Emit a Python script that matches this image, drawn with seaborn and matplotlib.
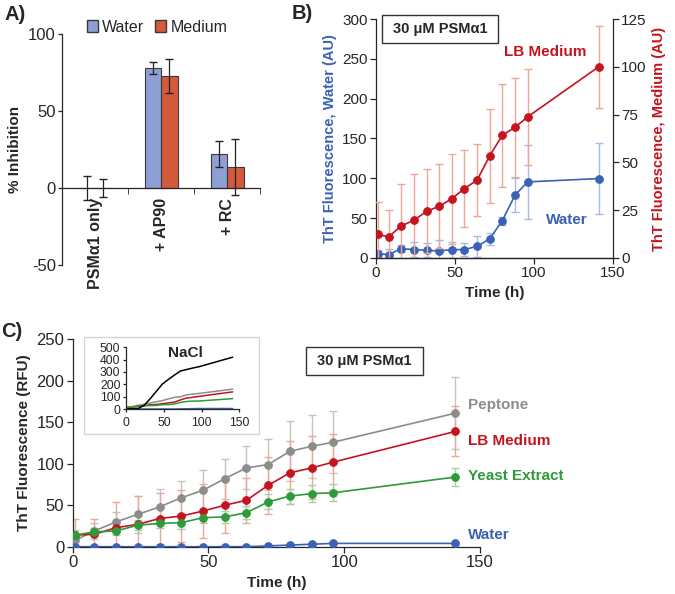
import pandas as pd
import seaborn as sns
import matplotlib.pyplot as plt
from matplotlib.patches import Rectangle, Patch

# --- panel A: % inhibition ---
groups = ["PSMα1 only", "+ AP90", "+ RC"]
inhib_water = [0, 78, 22]
inhib_water_err = [7.5, 3.7, 8.5]
inhib_medium = [0, 72.5, 13.5]
inhib_medium_err = [5.6, 11, 18]

# --- panel B: water vs LB medium ---
time_b = [1, 8, 16, 24, 32, 40, 48, 56, 64, 72, 80, 88, 96, 141]
water_b = [5.4, 4.2, 11.7, 10.5, 9.6, 8.8, 10.5, 10.5, 14.7, 23.9, 47, 78.8, 95.5, 99.7]
water_b_err = [5, 7, 4, 9, 9, 14, 10, 8, 13, 7, 5, 21, 46, 45]
medium_b = [12.4, 11, 16.8, 19.7, 24.4, 27, 31, 36.3, 40.7, 53.4, 64.2, 68.3, 73.8, 100]
medium_b_err = [17, 14, 22, 24, 22, 22, 23.6, 20, 19, 24.6, 27, 26, 25, 21.5]

# --- panel C: media components ---
time_c = [1, 8, 16, 24, 32, 40, 48, 56, 64, 72, 80, 88, 96, 141]
peptone = [8, 19, 30, 39, 48, 59, 68, 82, 95, 99, 115, 121, 126, 161]
peptone_err = [5, 10, 12, 22, 21, 20, 25, 24, 26, 31, 36, 38, 37, 43]
lb = [14, 15, 23, 27, 34, 37, 43, 50, 56, 74, 89, 95, 102, 139]
lb_err = [19, 19, 31, 34, 31, 31, 33, 33, 27, 34, 38, 38, 34, 30]
yeast = [14, 18, 19, 26, 28, 29, 35, 36, 41, 54, 61, 64, 65, 84]
yeast_err = [6, 5, 5, 6, 6, 8, 7, 7, 8, 9, 9, 10, 10, 11]
water_c = [0, 0, 0, 0, 0, 0, 0, 0, 0, 1, 2, 3, 4, 4]
water_c_err = [1, 1, 1, 1, 1, 1, 1, 1, 1, 1, 1, 1, 1, 1]
nacl = [1, 2, 4, 30, 84, 143, 202, 240, 275, 308, 320, 332, 342, 420]

BLUE = "#3a62b4"
RED = "#c4141e"
GREY = "#8c8c8c"
GREEN = "#2e9a3c"

sns.set_style("ticks")
plt.rcParams["font.family"] = ["Liberation Sans", "DejaVu Sans"]
plt.rcParams["font.size"] = 10.5
plt.rcParams["axes.unicode_minus"] = False
plt.rcParams["axes.linewidth"] = 0.9
plt.rcParams["xtick.major.width"] = 0.9
plt.rcParams["ytick.major.width"] = 0.9

fig = plt.figure(figsize=(6.75, 5.94), dpi=100)
axA = fig.add_axes([0.0919, 0.5539, 0.2933, 0.3889])
axB = fig.add_axes([0.557, 0.5657, 0.351, 0.4023])
axC = fig.add_axes([0.1077, 0.0796, 0.6033, 0.3492])

# ---------- A ----------
dfA = pd.DataFrame({
    "group": groups * 2,
    "cond": ["Water"] * 3 + ["Medium"] * 3,
    "val": inhib_water + inhib_medium,
})
pal = {"Water": "#8e9fd6", "Medium": "#d45a3c"}
sns.barplot(data=dfA, x="group", y="val", hue="cond", palette=pal, width=0.5,
            edgecolor="#3a3a3a", linewidth=0.8, errorbar=None, legend=False,
            saturation=1, ax=axA)
xs = sorted(p.get_x() + p.get_width() / 2 for p in axA.patches)
vals, errs = [], []
for i in range(3):
    vals += [inhib_water[i], inhib_medium[i]]
    errs += [inhib_water_err[i], inhib_medium_err[i]]
axA.errorbar(xs, vals, yerr=errs, fmt="none", ecolor="#222222", elinewidth=0.9, capsize=3)
axA.set_xlim(-0.5, 2.5)
axA.set_ylim(-50, 100)
axA.set_yticks([-50, 0, 50, 100])
axA.spines["bottom"].set_position(("data", 0))
sns.despine(ax=axA)
axA.set_xticks([0, 1, 2])
axA.set_xticklabels(groups, rotation=90, fontweight="bold", fontsize=11.5)
axA.set_xticks([0.5, 1.5, 2.5], minor=True)
axA.tick_params(axis="x", which="major", length=0, pad=7)
axA.tick_params(axis="x", which="minor", length=4, direction="out")
axA.tick_params(axis="y", labelsize=12, length=3, pad=1.5)
axA.set_xlabel("")
axA.set_ylabel("% Inhibition", fontweight="bold", fontsize=11)
handles = [Patch(facecolor=pal[k], edgecolor="#3a3a3a", label=k) for k in ["Water", "Medium"]]
axA.legend(handles=handles, loc="center", bbox_to_anchor=(0.48, 1.03), ncol=2, frameon=False,
           handlelength=0.7, handleheight=0.7, handletextpad=0.25, columnspacing=0.7, fontsize=11.5)

# ---------- B ----------
axB.errorbar(time_b, water_b, yerr=water_b_err, fmt="none", ecolor="#a8b8e2",
             elinewidth=1, capsize=3, zorder=1)
sns.lineplot(x=time_b, y=water_b, ax=axB, color=BLUE, marker="o", markersize=5.5,
             markeredgecolor=BLUE, linewidth=1.2, zorder=2)
axB.set_xlim(0, 150)
axB.set_ylim(0, 300)
axB.set_xticks([0, 50, 100, 150])
axB.set_yticks(range(0, 301, 50))
axB.tick_params(labelsize=11, length=4, pad=2)
axB.spines["top"].set_visible(False)
axB.spines["right"].set_visible(False)
axB.set_xlabel("Time (h)", fontweight="bold", fontsize=11)
axB.set_ylabel("ThT Fluorescence, Water (AU)", color=BLUE, fontweight="bold", fontsize=10.5)

axB2 = axB.twinx()
axB2.errorbar(time_b, medium_b, yerr=medium_b_err, fmt="none", ecolor="#eba898",
              elinewidth=1, capsize=3, zorder=1)
sns.lineplot(x=time_b, y=medium_b, ax=axB2, color=RED, marker="o", markersize=5.5,
             markeredgecolor=RED, linewidth=1.2, zorder=2)
axB2.set_ylim(0, 125)
axB2.set_yticks(range(0, 126, 25))
axB2.tick_params(labelsize=11, length=4, pad=2)
axB2.spines["top"].set_visible(False)
axB2.spines["left"].set_visible(False)
axB2.set_ylabel("ThT Fluorescence, Medium (AU)", color=RED, fontweight="bold", fontsize=10.5)

axB.text(107, 259, "LB Medium", color=RED, fontweight="bold", ha="center", va="center", fontsize=11)
axB.text(120.7, 47.7, "Water", color=BLUE, fontweight="bold", ha="center", va="center", fontsize=11)
axB.add_patch(Rectangle((0.025, 0.898), 0.492, 0.119, transform=axB.transAxes,
                        facecolor="white", edgecolor="#333333", lw=1, clip_on=False, zorder=5))
axB.text(0.271, 0.957, "30 μM PSMα1", transform=axB.transAxes, ha="center", va="center",
         fontweight="bold", zorder=6)

# ---------- C ----------
series = [
    (peptone, peptone_err, GREY, "#c4c4c4"),
    (lb, lb_err, RED, "#eba898"),
    (yeast, yeast_err, GREEN, "#a8d0a8"),
    (water_c, water_c_err, BLUE, "#a8b8e2"),
]
for vals_c, err_c, col, ecol in series:
    axC.errorbar(time_c, vals_c, yerr=err_c, fmt="none", ecolor=ecol,
                 elinewidth=1, capsize=3, zorder=1)
for vals_c, err_c, col, ecol in series:
    sns.lineplot(x=time_c, y=vals_c, ax=axC, color=col, marker="o", markersize=5.5,
                 markeredgecolor=col, linewidth=1.2, zorder=3)
axC.set_xlim(0, 150)
axC.set_ylim(0, 250)
axC.set_xticks([0, 50, 100, 150])
axC.set_yticks(range(0, 251, 50))
axC.tick_params(labelsize=12, length=4, pad=2)
sns.despine(ax=axC)
axC.set_xlabel("Time (h)", fontweight="bold", fontsize=11)
axC.set_ylabel("ThT Fluorescence (RFU)", fontweight="bold", fontsize=11)
axC.text(145.7, 171, "Peptone", color=GREY, fontweight="bold", va="center", clip_on=False, fontsize=11)
axC.text(145.7, 128, "LB Medium", color=RED, fontweight="bold", va="center", clip_on=False, fontsize=11)
axC.text(145.7, 85, "Yeast Extract", color=GREEN, fontweight="bold", va="center", clip_on=False, fontsize=11)
axC.text(145.7, 14, "Water", color=BLUE, fontweight="bold", va="center", clip_on=False, fontsize=11)
axC.add_patch(Rectangle((0.573, 0.828), 0.287, 0.136, transform=axC.transAxes,
                        facecolor="white", edgecolor="#333333", lw=1, clip_on=False, zorder=5))
axC.text(0.7165, 0.896, "30 μM PSMα1", transform=axC.transAxes, ha="center", va="center",
         fontweight="bold", zorder=6)

# inset
fig.add_artist(Rectangle((0.1244, 0.2694), 0.2593, 0.1633, transform=fig.transFigure,
                         facecolor="white", edgecolor="#d4d4d4", lw=1, zorder=1))
axI = fig.add_axes([0.1867, 0.3114, 0.1681, 0.1039])
axI.set_zorder(3)
axI.patch.set_alpha(0)
for vals_c, col in [(peptone, GREY), (lb, RED), (yeast, GREEN), (water_c, BLUE), (nacl, "black")]:
    sns.lineplot(x=time_c, y=vals_c, ax=axI, color=col, linewidth=1.1)
axI.set_xlim(0, 150)
axI.set_ylim(0, 500)
axI.set_xticks([0, 50, 100, 150])
axI.set_yticks(range(0, 501, 100))
axI.tick_params(labelsize=8.8, length=2.5, pad=1.5)
axI.tick_params(axis="x", pad=3)
sns.despine(ax=axI)
axI.text(79, 455, "NaCl", fontweight="bold", ha="center", va="center", fontsize=11)

fig.text(0.006, 0.975, "A)", fontweight="bold", fontsize=14.5, va="center")
fig.text(0.432, 0.978, "B)", fontweight="bold", fontsize=14.5, va="center")
fig.text(0.002, 0.4416, "C)", fontweight="bold", fontsize=14.5, va="center")

fig.savefig("out.png", dpi=100)
